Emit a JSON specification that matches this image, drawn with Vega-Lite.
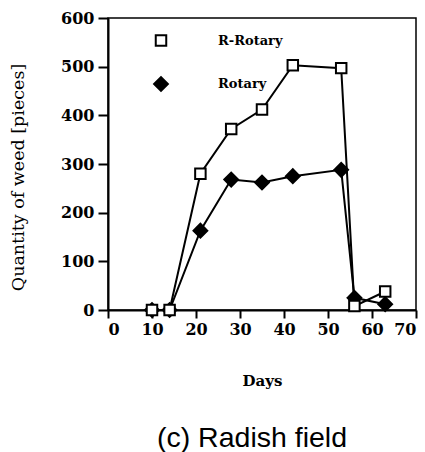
{
  "$schema": "https://vega.github.io/schema/vega-lite/v6.json",
  "width": 308,
  "height": 292,
  "autosize": "none",
  "padding": {"left": 108, "top": 18, "right": 9, "bottom": 142},
  "background": "white",
  "title": {
    "text": "(c) Radish field",
    "orient": "bottom",
    "anchor": "middle",
    "frame": "group",
    "dx": -10,
    "offset": 36,
    "font": "Liberation Sans",
    "fontSize": 28.5,
    "fontWeight": "normal",
    "color": "black"
  },
  "config": {
    "view": {"stroke": "black", "strokeWidth": 1.5},
    "axis": {
      "grid": false,
      "domainColor": "black",
      "domainWidth": 2,
      "tickColor": "black",
      "tickWidth": 2,
      "labelFont": "DejaVu Serif",
      "labelFontWeight": "bold",
      "labelFontSize": 16,
      "labelColor": "black",
      "titleFont": "DejaVu Serif",
      "titleColor": "black"
    }
  },
  "data": {
    "values": [
      {"day": 10, "qty": 0, "series": "Rotary"},
      {"day": 14, "qty": 0, "series": "Rotary"},
      {"day": 21, "qty": 163, "series": "Rotary"},
      {"day": 28, "qty": 268, "series": "Rotary"},
      {"day": 35, "qty": 262, "series": "Rotary"},
      {"day": 42, "qty": 275, "series": "Rotary"},
      {"day": 53, "qty": 288, "series": "Rotary"},
      {"day": 56, "qty": 25, "series": "Rotary"},
      {"day": 63, "qty": 12, "series": "Rotary"},
      {"day": 10, "qty": 0, "series": "R-Rotary"},
      {"day": 14, "qty": 0, "series": "R-Rotary"},
      {"day": 21, "qty": 280, "series": "R-Rotary"},
      {"day": 28, "qty": 372, "series": "R-Rotary"},
      {"day": 35, "qty": 412, "series": "R-Rotary"},
      {"day": 42, "qty": 503, "series": "R-Rotary"},
      {"day": 53, "qty": 497, "series": "R-Rotary"},
      {"day": 56, "qty": 8, "series": "R-Rotary"},
      {"day": 63, "qty": 38, "series": "R-Rotary"}
    ]
  },
  "encoding": {
    "x": {
      "field": "day",
      "type": "quantitative",
      "scale": {"domain": [0, 70], "nice": false},
      "axis": {
        "values": [0, 10, 20, 30, 40, 50, 60, 70],
        "tickSize": 8,
        "labelPadding": 3,
        "title": "Days",
        "titleFontSize": 15,
        "titleFontWeight": "bold",
        "titlePadding": 36
      }
    },
    "y": {
      "field": "qty",
      "type": "quantitative",
      "scale": {"domain": [0, 600], "nice": false},
      "axis": {
        "values": [0, 100, 200, 300, 400, 500, 600],
        "tickSize": 10,
        "labelPadding": 4,
        "title": "Quantity of weed [pieces]",
        "titleFontSize": 17.5,
        "titleFontWeight": "normal",
        "titlePadding": 33,
        "titleY": 159
      }
    }
  },
  "layer": [
    {
      "mark": {"type": "line", "color": "black", "strokeWidth": 2},
      "encoding": {"detail": {"field": "series"}}
    },
    {
      "mark": {"type": "point", "filled": true, "stroke": "black", "strokeWidth": 2, "opacity": 1},
      "encoding": {
        "shape": {
          "field": "series",
          "scale": {"domain": ["R-Rotary", "Rotary"], "range": ["square", "diamond"]},
          "legend": {
            "orient": "none",
            "legendX": 45,
            "legendY": 16,
            "title": null,
            "padding": 0,
            "symbolSize": 144,
            "symbolStrokeWidth": 2,
            "labelFont": "DejaVu Serif",
            "labelFontWeight": "bold",
            "labelFontSize": 13,
            "labelColor": "black",
            "labelOffset": 49,
            "rowPadding": 23
          }
        },
        "fill": {
          "field": "series",
          "scale": {"domain": ["R-Rotary", "Rotary"], "range": ["white", "black"]}
        },
        "size": {
          "field": "series",
          "scale": {"domain": ["R-Rotary", "Rotary"], "range": [110, 190]}
        },
        "order": {"field": "series", "sort": "descending"}
      }
    }
  ]
}
